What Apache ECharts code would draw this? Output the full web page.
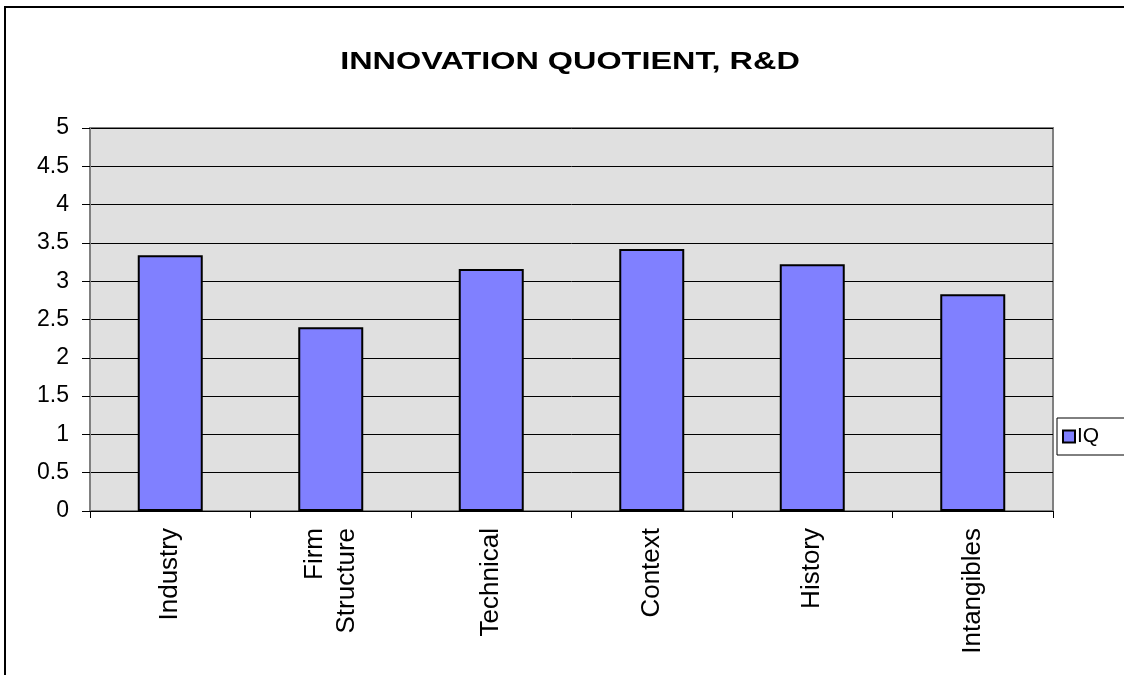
<!DOCTYPE html>
<html>
<head>
<meta charset="utf-8">
<script src="https://cdn.jsdelivr.net/npm/echarts@6/dist/echarts.min.js"></script>
<style>
html,body{margin:0;padding:0;background:#fff;}
#chart{width:1124px;height:675px;}
</style>
</head>
<body>
<div id="chart"></div>
<script>
const categories = ['Industry', 'Firm\nStructure', 'Technical', 'Context', 'History', 'Intangibles'];
const iqValues = [3.34, 2.40, 3.16, 3.42, 3.22, 2.83];
const seriesName = 'IQ';
const titleText = 'INNOVATION QUOTIENT, R&D';

const chart = echarts.init(document.getElementById('chart'), null, {renderer: 'canvas'});
const font = 'Liberation Sans, Arial, sans-serif';
chart.setOption({
  backgroundColor: '#ffffff',
  animation: false,
  legend: {
    data: [seriesName],
    left: 1057,
    top: 418,
    orient: 'vertical',
    icon: 'rect',
    itemWidth: 12,
    itemHeight: 12,
    itemGap: 0,
    padding: [8, 30, 8, 5],
    borderColor: '#000',
    borderWidth: 1,
    textStyle: {fontFamily: font, fontSize: 21, color: '#000', padding: [0, 0, 0, -3]}
  },
  grid: {
    left: 90, right: 71, top: 128, bottom: 164,
    show: true,
    backgroundColor: '#e0e0e0',
    borderColor: '#808080',
    borderWidth: 2
  },
  xAxis: {
    type: 'category',
    data: categories,
    axisLine: {lineStyle: {color: '#000', width: 1}},
    axisTick: {show: true, length: 7, lineStyle: {color: '#000'}},
    axisLabel: {rotate: 90, margin: 17, fontFamily: font, fontSize: 26, color: '#000', lineHeight: 32, align: 'right', verticalAlign: 'middle'}
  },
  yAxis: {
    type: 'value',
    min: 0, max: 5, interval: 0.5,
    axisLine: {show: true, lineStyle: {color: '#808080', width: 2}},
    axisTick: {show: true, length: 8, lineStyle: {color: '#000'}},
    axisLabel: {margin: 21, fontFamily: font, fontSize: 23, color: '#000'},
    splitLine: {show: true, lineStyle: {color: '#000', width: 1}}
  },
  series: [{
    name: seriesName,
    type: 'bar',
    data: iqValues,
    barWidth: 65,
    itemStyle: {color: '#8080ff', borderColor: '#000', borderWidth: 2}
  }],
  graphic: [{
    type: 'polyline',
    shape: {points: [[5, 700], [5, 7], [1130, 7]]},
    style: {stroke: '#000', lineWidth: 2, fill: null},
    silent: true
  }, {
    type: 'text',
    x: 570,
    y: 50,
    scaleX: 1.35,
    silent: true,
    style: {
      text: titleText,
      font: 'bold 24px Liberation Sans, Arial, sans-serif',
      fill: '#000',
      textAlign: 'center',
      textVerticalAlign: 'top'
    }
  }]
});
</script>
</body>
</html>
